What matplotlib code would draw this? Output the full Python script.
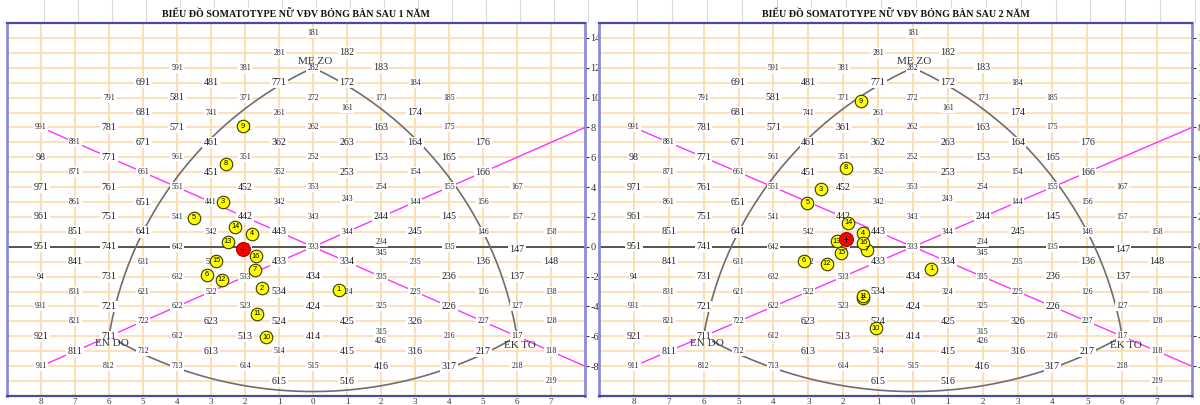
import numpy as np
import matplotlib
matplotlib.use("Agg")
import matplotlib.pyplot as plt

plt.rcParams['axes.unicode_minus'] = False
SERIF = ['Liberation Serif', 'DejaVu Serif']

# somatotype grid labels: (X, Y, code, large font)
grid_labels = [
    (-8, 8, '991', 0), (-8, 6, '98', 1), (-8, 4, '971', 1), (-8, 2, '961', 1), (-8, 0, '951', 1),
    (-8, -2, '94', 0), (-8, -4, '931', 0), (-8, -6, '921', 1), (-8, -8, '911', 0),
    (-7, 7, '881', 0), (-7, 5, '871', 0), (-7, 3, '861', 0), (-7, 1, '851', 1), (-7, -1, '841', 1),
    (-7, -3, '831', 0), (-7, -5, '821', 0), (-7, -7, '811', 1),
    (-6, 10, '791', 0), (-6, 8, '781', 1), (-6, 6, '771', 1), (-6, 4, '761', 1), (-6, 2, '751', 1),
    (-6, 0, '741', 1), (-6, -2, '731', 1), (-6, -4, '721', 1), (-6, -6, '711', 1), (-6, -8, '812', 0),
    (-5, 11, '691', 1), (-5, 9, '681', 1), (-5, 7, '671', 1), (-5, 5, '661', 0), (-5, 3, '651', 1),
    (-5, 1, '641', 1), (-5, -1, '631', 0), (-5, -3, '621', 0), (-5, -5, '722', 0), (-5, -7, '712', 0),
    (-4, 12, '591', 0), (-4, 10, '581', 1), (-4, 8, '571', 1), (-4, 6, '561', 0), (-4, 4, '551', 0),
    (-4, 2, '541', 0), (-4, 0, '642', 0), (-4, -2, '632', 0), (-4, -4, '622', 0), (-4, -6, '612', 0),
    (-4, -8, '713', 0),
    (-3, 11, '481', 1), (-3, 9, '741', 0), (-3, 7, '461', 1), (-3, 5, '451', 1), (-3, 3, '441', 0),
    (-3, 1, '542', 0), (-3, -1, '532', 0), (-3, -3, '522', 0), (-3, -5, '623', 1), (-3, -7, '613', 1),
    (-2, 12, '381', 0), (-2, 10, '371', 0), (-2, 8, '361', 1), (-2, 6, '351', 0), (-2, 4, '452', 1),
    (-2, 2, '442', 1), (-2, 0, '432', 0), (-2, -2, '533', 0), (-2, -4, '523', 0), (-2, -6, '513', 1),
    (-2, -8, '614', 0),
    (-1, 13, '281', 0), (-1, 11, '771', 1), (-1, 9, '261', 0), (-1, 7, '362', 1), (-1, 5, '352', 0),
    (-1, 3, '342', 0), (-1, 1, '443', 1), (-1, -1, '433', 1), (-1, -3, '534', 1), (-1, -5, '524', 1),
    (-1, -7, '514', 0), (-1, -9, '615', 1),
    (0, 14.3, '181', 0), (0, 12, '282', 0), (0, 10, '272', 0), (0, 8, '262', 0), (0, 6, '252', 0),
    (0, 4, '353', 0), (0, 2, '343', 0), (0, 0, '333', 0), (0, -2, '434', 1), (0, -4, '424', 1),
    (0, -6, '414', 1), (0, -8, '515', 0),
    (1, 13, '182', 1), (1, 11, '172', 1), (1, 9.3, '161', 0), (1, 7, '263', 1), (1, 5, '253', 1),
    (1, 3.2, '243', 0), (1, 1, '344', 0), (1, -1, '334', 1), (1, -3, '324', 0), (1, -5, '425', 1),
    (1, -7, '415', 1), (1, -9, '516', 1),
    (2, 12, '183', 1), (2, 10, '173', 0), (2, 8, '163', 1), (2, 6, '153', 1), (2, 4, '254', 0),
    (2, 2, '244', 1), (2, 0.3, '234', 0), (2, -0.4, '345', 0), (2, -2, '335', 0), (2, -4, '325', 0),
    (2, -5.7, '315', 0), (2, -6.3, '426', 0), (2, -8, '416', 1),
    (3, 11, '184', 0), (3, 9, '174', 1), (3, 7, '164', 1), (3, 5, '154', 0), (3, 3, '144', 0),
    (3, 1, '245', 1), (3, -1, '235', 0), (3, -3, '225', 0), (3, -5, '326', 1), (3, -7, '316', 1),
    (4, 10, '185', 0), (4, 8, '175', 0), (4, 6, '165', 1), (4, 4, '155', 0), (4, 2, '145', 1),
    (4, 0, '135', 0), (4, -2, '236', 1), (4, -4, '226', 1), (4, -6, '216', 0), (4, -8, '317', 1),
    (5, 7, '176', 1), (5, 5, '166', 1), (5, 3, '156', 0), (5, 1, '146', 0), (5, -1, '136', 1),
    (5, -3, '126', 0), (5, -5, '227', 0), (5, -7, '217', 1),
    (6, 4, '167', 0), (6, 2, '157', 0), (6, -0.2, '147', 1), (6, -2, '137', 1), (6, -4, '127', 0),
    (6, -6, '117', 0), (6, -8, '218', 0),
    (7, 1, '158', 0), (7, -1, '148', 1), (7, -3, '138', 0), (7, -5, '128', 0), (7, -7, '118', 0),
    (7, -9, '219', 0),
]

# corner names of the somatochart
corner_names = [('ME ZO', 0.05, 12.45), ('EN DO', -5.9, -6.5), ('EK TO', 6.1, -6.6)]

# boundary arcs: start, bend point, end
arcs = [
    [(-6, -6), (-5, 1), (0, 12)],
    [(0, 12), (5, 1), (6, -6)],
    [(-6, -6), (0, -9.7), (6, -6)],
]

athlete_ids = list(range(1, 17))

# after 1 year
x_1y = [0.76, -1.5, -2.65, -1.79, -3.5, -3.12, -1.71, -2.56, -2.06, -1.38, -1.65, -2.68, -2.5, -2.29, -2.85, -1.68]
y_1y = [-2.89, -2.78, 3.03, 0.87, 1.95, -1.88, -1.55, 5.58, 8.07, -6.05, -4.5, -2.22, 0.33, 1.35, -0.92, -0.65]
mean_1y = (-2.06, -0.13)

# after 2 years
x_2y = [0.52, -1.43, -2.64, -1.43, -3.03, -3.13, -1.32, -1.92, -1.49, -1.06, -1.43, -2.47, -2.18, -1.86, -2.06, -1.43]
y_2y = [-1.48, -3.45, 3.85, 0.92, 2.96, -0.94, -0.2, 5.3, 9.75, -5.45, -3.3, -1.14, 0.38, 1.6, -0.4, 0.27]
mean_2y = (-1.92, 0.54)

x_ticks = list(range(-8, 8))
y_ticks = list(range(-8, 15, 2))


def arc_xy(p0, p1, p2, k=0.435):
    # circle through three points, with Y squeezed so the arc looks round
    pts = np.array([p0, p1, p2], dtype=float)
    pts[:, 1] *= k
    (x0, y0), (x1, y1), (x2, y2) = pts
    A = np.array([[x1 - x0, y1 - y0], [x2 - x0, y2 - y0]]) * 2
    b = np.array([x1**2 - x0**2 + y1**2 - y0**2, x2**2 - x0**2 + y2**2 - y0**2])
    cx, cy = np.linalg.solve(A, b)
    r = np.hypot(x0 - cx, y0 - cy)
    a0 = np.arctan2(y0 - cy, x0 - cx)
    a1 = np.arctan2(y1 - cy, x1 - cx)
    a2 = np.arctan2(y2 - cy, x2 - cx)
    d1 = (a1 - a0) % (2 * np.pi)
    d2 = (a2 - a0) % (2 * np.pi)
    if d1 < d2:
        t = np.linspace(a0, a0 + d2, 200)
    else:
        t = np.linspace(a0, a0 - (2 * np.pi - d2), 200)
    return cx + r * np.cos(t), (cy + r * np.sin(t)) / k


def draw_chart(ax, xs, ys, mean, title):
    ax.set_xlim(-9, 8)
    ax.set_ylim(-10, 15)

    # orange grid
    for gx in range(-8, 8):
        ax.axvline(gx, color='#FDD9A6', lw=1.2, zorder=1)
    for gy in range(-9, 15):
        ax.axhline(gy, color='#FDD9A6', lw=1.1, zorder=1)

    # spreadsheet column lines above the plot
    ax.vlines([v + 0.09 for v in range(-8, 9)], 15, 16.6, color='#DADADA', lw=0.8,
              clip_on=False, zorder=0)

    ax.axhline(0, color='#3C3C3C', lw=1.2, zorder=2)
    ax.plot([-8, 8], [-8, 8], color='#FF33FF', lw=1.0, zorder=2)
    ax.plot([-8, 8], [8, -8], color='#FF33FF', lw=1.0, zorder=2)
    for a in arcs:
        ax_, ay_ = arc_xy(*a)
        ax.plot(ax_, ay_, color='#6E6E6E', lw=1.2, zorder=2)

    for gx, gy, code, big in grid_labels:
        ax.text(gx, gy, code, ha='center', va='center', family=SERIF,
                fontsize=7.2 if big else 5.6, color='#222222', zorder=4,
                bbox=dict(boxstyle='square,pad=0.12', fc='white', ec='none'))
    for name, nx, ny in corner_names:
        ax.text(nx, ny, name, ha='center', va='center', family=SERIF,
                fontsize=8, color='#333333', zorder=4)

    for i, px, py in zip(athlete_ids, xs, ys):
        ax.plot(px, py, 'o', ms=9, mfc='#FFFF00', mec='#3A3A00', mew=0.8, zorder=6)
        ax.text(px, py, str(i), ha='center', va='center', fontsize=5.3,
                family='Liberation Sans', color='black', zorder=7)
    ax.plot(mean[0], mean[1], 'o', ms=10, mfc='#FF0000', mec='#B00000', mew=0.8, zorder=8)
    ax.plot(mean[0], mean[1], '+', ms=4, color='black', mew=0.7, zorder=9)

    ax.text(0.5, 1.0 + 8.5 / 373, title, transform=ax.transAxes, ha='center', va='center',
            family=SERIF, fontsize=7.2, fontweight='bold', color='#111111',
            bbox=dict(boxstyle='square,pad=0.15', fc='white', ec='none'))

    ax.set_xticks(x_ticks)
    ax.set_xticklabels([str(abs(v)) for v in x_ticks], family=SERIF)
    ax.set_yticks(y_ticks)
    ax.set_yticklabels([str(v) for v in y_ticks], family=SERIF)
    ax.yaxis.tick_right()
    ax.tick_params(axis='x', length=0, pad=1.5, labelsize=6.5, colors='#333333')
    ax.tick_params(axis='y', length=3, width=0.8, pad=1, labelsize=7.5,
                   colors='#333333', direction='out')
    for side in ('top', 'bottom'):
        ax.spines[side].set_color('#4A4AA0')
        ax.spines[side].set_linewidth(1.6)
    for side in ('left', 'right'):
        ax.spines[side].set_color('#8C8CD6')
        ax.spines[side].set_linewidth(2.0)


fig = plt.figure(figsize=(12, 4.05), dpi=100)
ax1 = fig.add_axes([7 / 1200, 9 / 405, 578 / 1200, 373 / 405])
ax2 = fig.add_axes([599 / 1200, 9 / 405, 593 / 1200, 373 / 405])

draw_chart(ax1, x_1y, y_1y, mean_1y, 'BIỂU ĐỒ SOMATOTYPE NỮ VĐV BÓNG BÀN SAU 1 NĂM')
draw_chart(ax2, x_2y, y_2y, mean_2y, 'BIỂU ĐỒ SOMATOTYPE NỮ VĐV BÓNG BÀN SAU 2 NĂM')

fig.savefig('out.png', dpi=100)
